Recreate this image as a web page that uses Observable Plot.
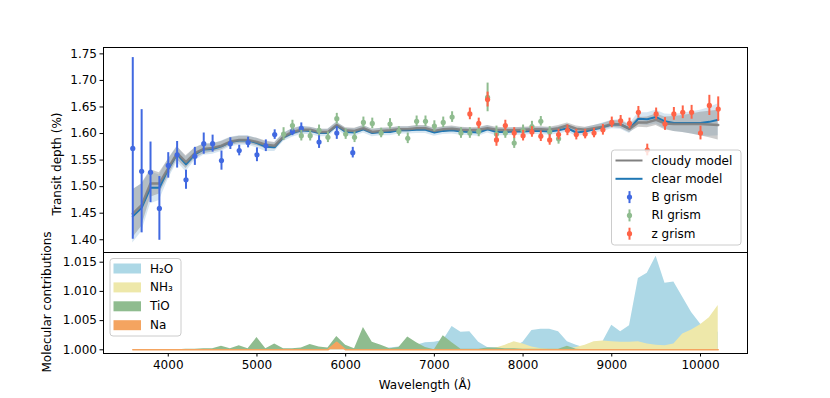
<!DOCTYPE html>
<html><head><meta charset="utf-8">
<script src="https://cdn.jsdelivr.net/npm/d3@7"></script>
<script src="https://cdn.jsdelivr.net/npm/@observablehq/plot@0.6"></script>
<style>
body{margin:0;background:#fff;}
#wrap{position:relative;width:830px;height:398px;font-family:"DejaVu Sans",sans-serif;color:#000;overflow:hidden;}
#wrap > svg{position:absolute;left:0;overflow:visible;}
.lab{position:absolute;font-size:12px;white-space:nowrap;transform:translate(-50%,-50%) rotate(-90deg);}
.xlab{position:absolute;font-size:12px;white-space:nowrap;transform:translate(-50%,-50%);}
</style></head><body><div id="wrap"></div>
<script>
// ---------- observations ----------
const bWave  = [3600,3700,3800,3900,4000,4100,4200,4300,4400,4500,4600,4700,4800,4900,5000,5100,5200,5400,5500,5700,5900,6080];
const bDepth = [1.572,1.529,1.527,1.459,1.540,1.560,1.513,1.557,1.581,1.581,1.549,1.581,1.568,1.583,1.560,1.577,1.598,1.604,1.610,1.584,1.601,1.564];
const bErr   = [0.171,0.116,0.057,0.060,0.024,0.025,0.018,0.017,0.020,0.016,0.018,0.011,0.010,0.010,0.013,0.011,0.009,0.008,0.010,0.012,0.012,0.010];

const riWave  = [5300,5400,5500,5600,5700,5800,5900,6000,6100,6200,6300,6400,6500,6600,6700,6800,6900,7000,7100,7200,7300,7400,7500,7600,7700,7800,7900,8000,8100,8200,8300,8400];
const riDepth = [1.599,1.615,1.596,1.596,1.606,1.593,1.628,1.599,1.593,1.621,1.619,1.601,1.618,1.604,1.591,1.623,1.623,1.614,1.621,1.631,1.601,1.601,1.604,1.668,1.599,1.601,1.582,1.606,1.613,1.623,1.603,1.590];
const riErr   = [0.012,0.010,0.010,0.010,0.010,0.010,0.010,0.010,0.010,0.010,0.010,0.009,0.010,0.009,0.010,0.010,0.010,0.010,0.010,0.010,0.010,0.010,0.010,0.027,0.015,0.010,0.010,0.010,0.010,0.009,0.010,0.010];

const zWave  = [7400,7500,7600,7700,7800,7900,8000,8100,8200,8300,8400,8500,8600,8700,8800,8900,9000,9100,9200,9300,9400,9500,9600,9700,9800,9900,10000,10100,10200];
const zDepth = [1.637,1.619,1.664,1.588,1.615,1.601,1.596,1.603,1.595,1.588,1.598,1.606,1.598,1.599,1.601,1.607,1.621,1.624,1.619,1.640,1.569,1.637,1.618,1.637,1.640,1.640,1.601,1.653,1.646];
const zErr   = [0.011,0.010,0.014,0.012,0.010,0.010,0.010,0.010,0.010,0.010,0.010,0.010,0.010,0.009,0.009,0.010,0.010,0.010,0.010,0.011,0.011,0.011,0.012,0.012,0.012,0.013,0.013,0.019,0.023];

// ---------- models (100 Å grid) ----------
const modelWave = [3600,3700,3800,3900,4000,4100,4200,4300,4400,4500,
  4600,4700,4800,4900,5000,5100,5200,5300,5400,5500,
  5600,5700,5800,5900,6000,6100,6200,6300,6400,6500,
  6600,6700,6800,6900,7000,7100,7200,7300,7400,7500,
  7600,7700,7800,7900,8000,8100,8200,8300,8400,8500,
  8600,8700,8800,8900,9000,9100,9200,9300,9400,9500,
  9600,9700,9800,9900,10000,10100,10200];
const cloudyModel = [1.449,1.465,1.506,1.506,1.535,1.563,1.546,1.563,1.571,1.573,
  1.577,1.585,1.588,1.588,1.584,1.579,1.577,1.594,1.603,1.607,
  1.607,1.603,1.603,1.616,1.606,1.605,1.610,1.603,1.605,1.606,
  1.608,1.608,1.610,1.610,1.605,1.608,1.609,1.607,1.606,1.607,
  1.610,1.607,1.606,1.606,1.607,1.608,1.608,1.607,1.610,1.615,
  1.609,1.607,1.610,1.613,1.618,1.617,1.609,1.621,1.621,1.626,
  1.619,1.618,1.618,1.618,1.618,1.617,1.616];
const clearModel = [1.444,1.460,1.498,1.498,1.533,1.561,1.542,1.561,1.570,1.571,
  1.576,1.584,1.587,1.587,1.582,1.575,1.574,1.593,1.601,1.606,
  1.605,1.601,1.601,1.615,1.603,1.602,1.608,1.601,1.603,1.603,
  1.606,1.606,1.607,1.607,1.602,1.605,1.606,1.604,1.603,1.602,
  1.608,1.603,1.603,1.604,1.604,1.605,1.605,1.604,1.606,1.610,
  1.602,1.604,1.608,1.612,1.617,1.617,1.609,1.628,1.627,1.631,
  1.623,1.620,1.620,1.620,1.620,1.622,1.626];
const cloudySpread = [0.045,0.040,0.026,0.020,0.016,0.012,0.012,0.010,0.009,0.008,
  0.008,0.007,0.007,0.007,0.007,0.007,0.006,0.006,0.006,0.006,
  0.005,0.005,0.005,0.005,0.005,0.005,0.005,0.005,0.005,0.005,
  0.005,0.005,0.005,0.005,0.005,0.005,0.005,0.005,0.005,0.005,
  0.005,0.005,0.005,0.005,0.005,0.005,0.005,0.005,0.005,0.005,
  0.005,0.005,0.005,0.006,0.006,0.007,0.007,0.009,0.010,0.011,
  0.012,0.014,0.016,0.019,0.022,0.025,0.028];
const clearSpread = [0.050,0.045,0.030,0.024,0.019,0.015,0.014,0.012,0.011,0.010,
  0.010,0.009,0.009,0.009,0.009,0.009,0.008,0.008,0.008,0.008,
  0.007,0.007,0.007,0.007,0.007,0.007,0.007,0.007,0.007,0.007,
  0.007,0.007,0.007,0.007,0.007,0.007,0.007,0.007,0.007,0.007,
  0.007,0.007,0.007,0.007,0.007,0.007,0.007,0.007,0.007,0.007,
  0.007,0.007,0.007,0.008,0.008,0.009,0.009,0.011,0.012,0.013,
  0.014,0.016,0.018,0.021,0.024,0.027,0.030];

// ---------- molecular contributions ----------
const h2o = [1,1,1,1,1,1,1,1,1,1,
  1,1,1,1,1,1,1,1,1,1,
  1,1,1,1,1,1,1,1,1,1.0003,
  1.0005,1.0003,1.0008,1.0012,1.0013,1.0016,1.0040,1.0030,1.0031,1.0013,
  1.0004,1.0003,1.0003,1.0005,1.0013,1.0033,1.0035,1.0035,1.0031,1.0014,
  1.0008,1.0003,1.0003,1.0014,1.0042,1.0031,1.0041,1.0122,1.0131,1.0160,
  1.0114,1.0116,1.0090,1.0064,1.0044,1.0035,1.0030];
const nh3 = [1,1,1,1,1,1,1,1,1,1,
  1,1,1,1,1,1,1,1,1,1,
  1,1,1,1,1,1,1,1,1,1,
  1,1,1,1,1,1,1,1,1,1,
  1.0000,1.0003,1.0008,1.0014,1.0010,1.0005,1.0002,1.0001,1.0001,1.0001,
  1.0004,1.0008,1.0014,1.0015,1.0014,1.0013,1.0013,1.0014,1.0010,1.0008,
  1.0007,1.0010,1.0027,1.0034,1.0043,1.0055,1.0076];
const tio = [1.0000,1.0000,1.0000,1.0000,1.0000,1.0000,1.0001,1.0001,1.0002,1.0002,
  1.0006,1.0002,1.0007,1.0002,1.0021,1.0002,1.0010,1.0002,1.0002,1.0003,
  1.0009,1.0005,1.0003,1.0023,1.0008,1.0002,1.0038,1.0013,1.0008,1.0002,
  1.0004,1.0022,1.0012,1.0004,1.0000,1.0024,1.0012,1.0001,1.0001,1.0001,
  1.0003,1.0003,1.0002,1.0002,1.0001,1.0001,1.0001,1.0001,1.0001,1.0006,
  1.0001,1,1,1,1,1,1,1,1,1,
  1,1,1,1,1,1,1];
const na = [1,1,1,1,1,1,1,1,1,1,
  1,1,1,1,1,1,1,1,1,1,
  1,1,1,1.0013,1,1,1,1,1,1,
  1,1,1,1,1,1,1,1,1,1,
  1,1,1,1,1,1,1,1,1,1,
  1,1,1,1,1,1,1,1,1,1,
  1,1,1,1,1,1,1];

const topTicks = [1.40,1.45,1.50,1.55,1.60,1.65,1.70,1.75];
const botTicks = [1.000,1.005,1.010,1.015];
const xTicks = [4000,5000,6000,7000,8000,9000,10000];

const colB = "#4169e1", colRI = "#8fbc8f", colZ = "#ff6347";
const colCloudy = "#808080", colClear = "#1f77b4";
const colH2O = "#add8e6", colNH3 = "#eee8aa", colTiO = "#8fbc8f", colNa = "#f4a460";

// ---------- tables ----------
const mk = (w, v, e) => w.map((x, i) => ({wl: x, v: v[i], e: e[i]}));
const bData = mk(bWave, bDepth, bErr);
const riData = mk(riWave, riDepth, riErr);
const zData = mk(zWave, zDepth, zErr);
const models = modelWave.map((w, i) => ({wl: w, cloudy: cloudyModel[i], clear: clearModel[i],
  cs: cloudySpread[i], ks: clearSpread[i], h2o: h2o[i], nh3: nh3[i], tio: tio[i], na: na[i]}));

const xDomain = [3270, 10530];
const plotStyle = {fontFamily: "DejaVu Sans, sans-serif", fontSize: "12px", color: "#000", background: "transparent", overflow: "visible"};

const errMarks = (data, c) => [
  Plot.ruleX(data, {x: "wl", y1: d => d.v - d.e, y2: d => d.v + d.e, stroke: c, strokeWidth: 2}),
  Plot.dot(data, {x: "wl", y: "v", fill: c, r: 2.6})
];

const topPlot = Plot.plot({
  width: 830, height: 252, marginLeft: 103, marginRight: 83, marginTop: 47, marginBottom: 0,
  style: plotStyle,
  x: {domain: xDomain, axis: null},
  y: {domain: [1.376, 1.762], ticks: topTicks, tickFormat: d3.format(".2f"), tickSize: 3.5, tickPadding: 3, label: null},
  marks: [
    Plot.areaY(models, {x: "wl", y1: d => d.clear - d.ks, y2: d => d.clear + d.ks, fill: colClear, fillOpacity: 0.18}),
    Plot.areaY(models, {x: "wl", y1: d => d.cloudy - d.cs, y2: d => d.cloudy + d.cs, fill: colCloudy, fillOpacity: 0.4}),
    Plot.lineY(models, {x: "wl", y: "clear", stroke: colClear, strokeWidth: 2}),
    Plot.lineY(models, {x: "wl", y: "cloudy", stroke: colCloudy, strokeWidth: 2.5, strokeOpacity: 0.9}),
    ...errMarks(bData, colB),
    ...errMarks(riData, colRI),
    ...errMarks(zData, colZ),
    Plot.frame({stroke: "#000", strokeWidth: 1})
  ]
});
topPlot.style.top = "0px";

const botPlot = Plot.plot({
  width: 830, height: 146, marginLeft: 103, marginRight: 83, marginTop: 0, marginBottom: 45,
  style: plotStyle,
  x: {domain: xDomain, ticks: xTicks, tickFormat: d3.format("d"), tickSize: 3.5, tickPadding: 3, label: null},
  y: {domain: [0.99937, 1.01666], ticks: botTicks, tickFormat: d3.format(".3f"), tickSize: 3.5, tickPadding: 3, label: null},
  marks: [
    Plot.areaY(models, {x: "wl", y1: 1, y2: "h2o", fill: colH2O}),
    Plot.areaY(models, {x: "wl", y1: 1, y2: "nh3", fill: colNH3}),
    Plot.areaY(models, {x: "wl", y1: 1, y2: "tio", fill: colTiO}),
    Plot.areaY(models, {x: "wl", y1: 1, y2: "na", fill: colNa}),
    Plot.lineY(models, {x: "wl", y: "na", stroke: colNa, strokeWidth: 1.5}),
    Plot.frame({stroke: "#000", strokeWidth: 1})
  ]
});
botPlot.style.top = "252px";

const wrap = document.getElementById("wrap");
wrap.appendChild(topPlot);
wrap.appendChild(botPlot);

// axis titles
function addLab(cls, text, x, y) {
  const d = document.createElement("div");
  d.className = cls; d.textContent = text;
  d.style.left = x + "px"; d.style.top = y + "px";
  wrap.appendChild(d);
}
addLab("lab", "Transit depth (%)", 57, 164);
addLab("lab", "Molecular contributions", 47, 302);
addLab("xlab", "Wavelength (Å)", 425, 385);

// legends
const NS = "http://www.w3.org/2000/svg";
const ov = document.createElementNS(NS, "svg");
ov.setAttribute("width", 830); ov.setAttribute("height", 398);
ov.style.position = "absolute"; ov.style.top = "0px"; ov.style.left = "0px";
ov.style.fontFamily = "DejaVu Sans, sans-serif"; ov.style.fontSize = "12px";
wrap.appendChild(ov);
function el(tag, attrs, txt) {
  const e = document.createElementNS(NS, tag);
  for (const k in attrs) e.setAttribute(k, attrs[k]);
  if (txt != null) e.textContent = txt;
  ov.appendChild(e); return e;
}
const topLegend = [
  {label: "cloudy model", kind: "line", color: colCloudy},
  {label: "clear model", kind: "line", color: colClear},
  {label: "B grism", kind: "err", color: colB},
  {label: "RI grism", kind: "err", color: colRI},
  {label: "z grism", kind: "err", color: colZ}
];
el("rect", {x: 611.5, y: 150, width: 129.5, height: 95, rx: 3, fill: "#fff", "fill-opacity": 0.8, stroke: "#cccccc"});
topLegend.forEach((it, i) => {
  const cy = 160.5 + i * 18.3;
  if (it.kind === "line") {
    el("line", {x1: 615.5, x2: 642.5, y1: cy, y2: cy, stroke: it.color, "stroke-width": 2});
  } else {
    el("line", {x1: 629.5, x2: 629.5, y1: cy - 6, y2: cy + 6, stroke: it.color, "stroke-width": 2});
    el("circle", {cx: 629.5, cy: cy, r: 2.6, fill: it.color});
  }
  el("text", {x: 651.5, y: cy, "dominant-baseline": "central"}, it.label);
});
const botLegend = [
  {label: "H₂O", color: colH2O},
  {label: "NH₃", color: colNH3},
  {label: "TiO", color: colTiO},
  {label: "Na", color: colNa}
];
el("rect", {x: 110, y: 258.5, width: 71, height: 77.5, rx: 3, fill: "#fff", "fill-opacity": 0.8, stroke: "#cccccc"});
botLegend.forEach((it, i) => {
  const cy = 268.5 + i * 18.9;
  el("rect", {x: 113.5, y: cy - 5, width: 27.5, height: 10, fill: it.color});
  el("text", {x: 150, y: cy, "dominant-baseline": "central"}, it.label);
});
</script></body></html>
